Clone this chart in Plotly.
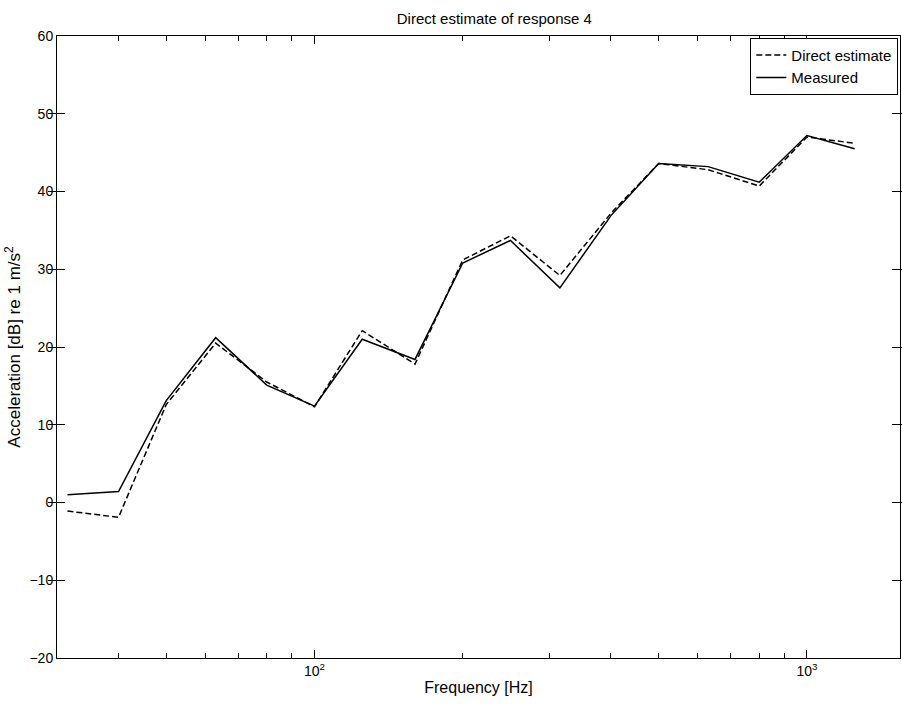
import math
import plotly.graph_objects as go

# One-third-octave band centre frequencies [Hz]
freq_hz = [31.5, 40, 50, 63, 80, 100, 125, 160, 200, 250, 315, 400,
           500, 630, 800, 1000, 1250]

# Acceleration levels [dB re 1 m/s^2]
measured_db = [1.0, 1.4, 13.1, 21.2, 15.1, 12.4, 21.0, 18.4, 30.8, 33.7,
               27.6, 36.9, 43.6, 43.2, 41.2, 47.2, 45.5]
direct_db = [-1.1, -1.9, 12.6, 20.5, 15.5, 12.3, 22.1, 17.8, 31.2, 34.3,
             29.2, 37.2, 43.6, 42.8, 40.7, 47.0, 46.2]

major_x = [100, 1000]
major_x_text = ["10<sup>2</sup>", "10<sup>3</sup>"]
minor_x = [40, 50, 60, 70, 80, 90, 200, 300, 400, 500, 600, 700, 800, 900]
y_ticks = [-20, -10, 0, 10, 20, 30, 40, 50, 60]

x_range = [math.log10(30), 3.189]
font = "Liberation Sans, Arial, sans-serif"

fig = go.Figure()
fig.add_trace(go.Scatter(
    x=freq_hz, y=direct_db, mode="lines", name="Direct estimate",
    line=dict(color="black", width=1.5, dash="6px,3px"),
))
fig.add_trace(go.Scatter(
    x=freq_hz, y=measured_db, mode="lines", name="Measured",
    line=dict(color="black", width=1.5),
))
# invisible trace carrying the minor-tick axis
fig.add_trace(go.Scatter(
    x=[freq_hz[0]], y=[measured_db[0]], xaxis="x2", mode="markers",
    marker=dict(opacity=0), showlegend=False, hoverinfo="skip",
))

fig.update_layout(
    width=902, height=708,
    margin=dict(l=57, r=2, t=36, b=50),
    paper_bgcolor="white", plot_bgcolor="white",
    font=dict(family=font, size=13, color="black"),
    title=dict(text="Direct estimate of response 4", x=0.548, xanchor="center",
               y=0.974, yanchor="middle", font=dict(size=15)),
    xaxis=dict(
        type="log", range=x_range, tickvals=major_x, ticktext=major_x_text,
        ticks="inside", ticklen=8, tickcolor="black",
        showline=True, linecolor="black", linewidth=1, mirror="allticks",
        showgrid=False, zeroline=False,
        title=dict(text="Frequency [Hz]", standoff=4, font=dict(size=16)),
        tickfont=dict(size=14),
    ),
    xaxis2=dict(
        type="log", range=x_range, overlaying="x", side="bottom",
        tickvals=minor_x, showticklabels=False,
        ticks="inside", ticklen=5, tickcolor="black",
        mirror="allticks", showline=False, showgrid=False, zeroline=False,
    ),
    yaxis=dict(
        range=[-20, 60], tickvals=y_ticks,
        ticks="inside", ticklen=8, tickcolor="black",
        showline=True, linecolor="black", linewidth=1, mirror="allticks",
        showgrid=False, zeroline=False,
        title=dict(text="Acceleration [dB] re 1 m/s<sup>2</sup>", standoff=4,
                   font=dict(size=17)),
        tickfont=dict(size=14),
    ),
    legend=dict(
        x=0.998, y=0.997, xanchor="right", yanchor="top",
        bgcolor="white", bordercolor="black", borderwidth=1,
        font=dict(size=15), tracegroupgap=0, itemwidth=30,
    ),
)

fig.write_html("out.html")
